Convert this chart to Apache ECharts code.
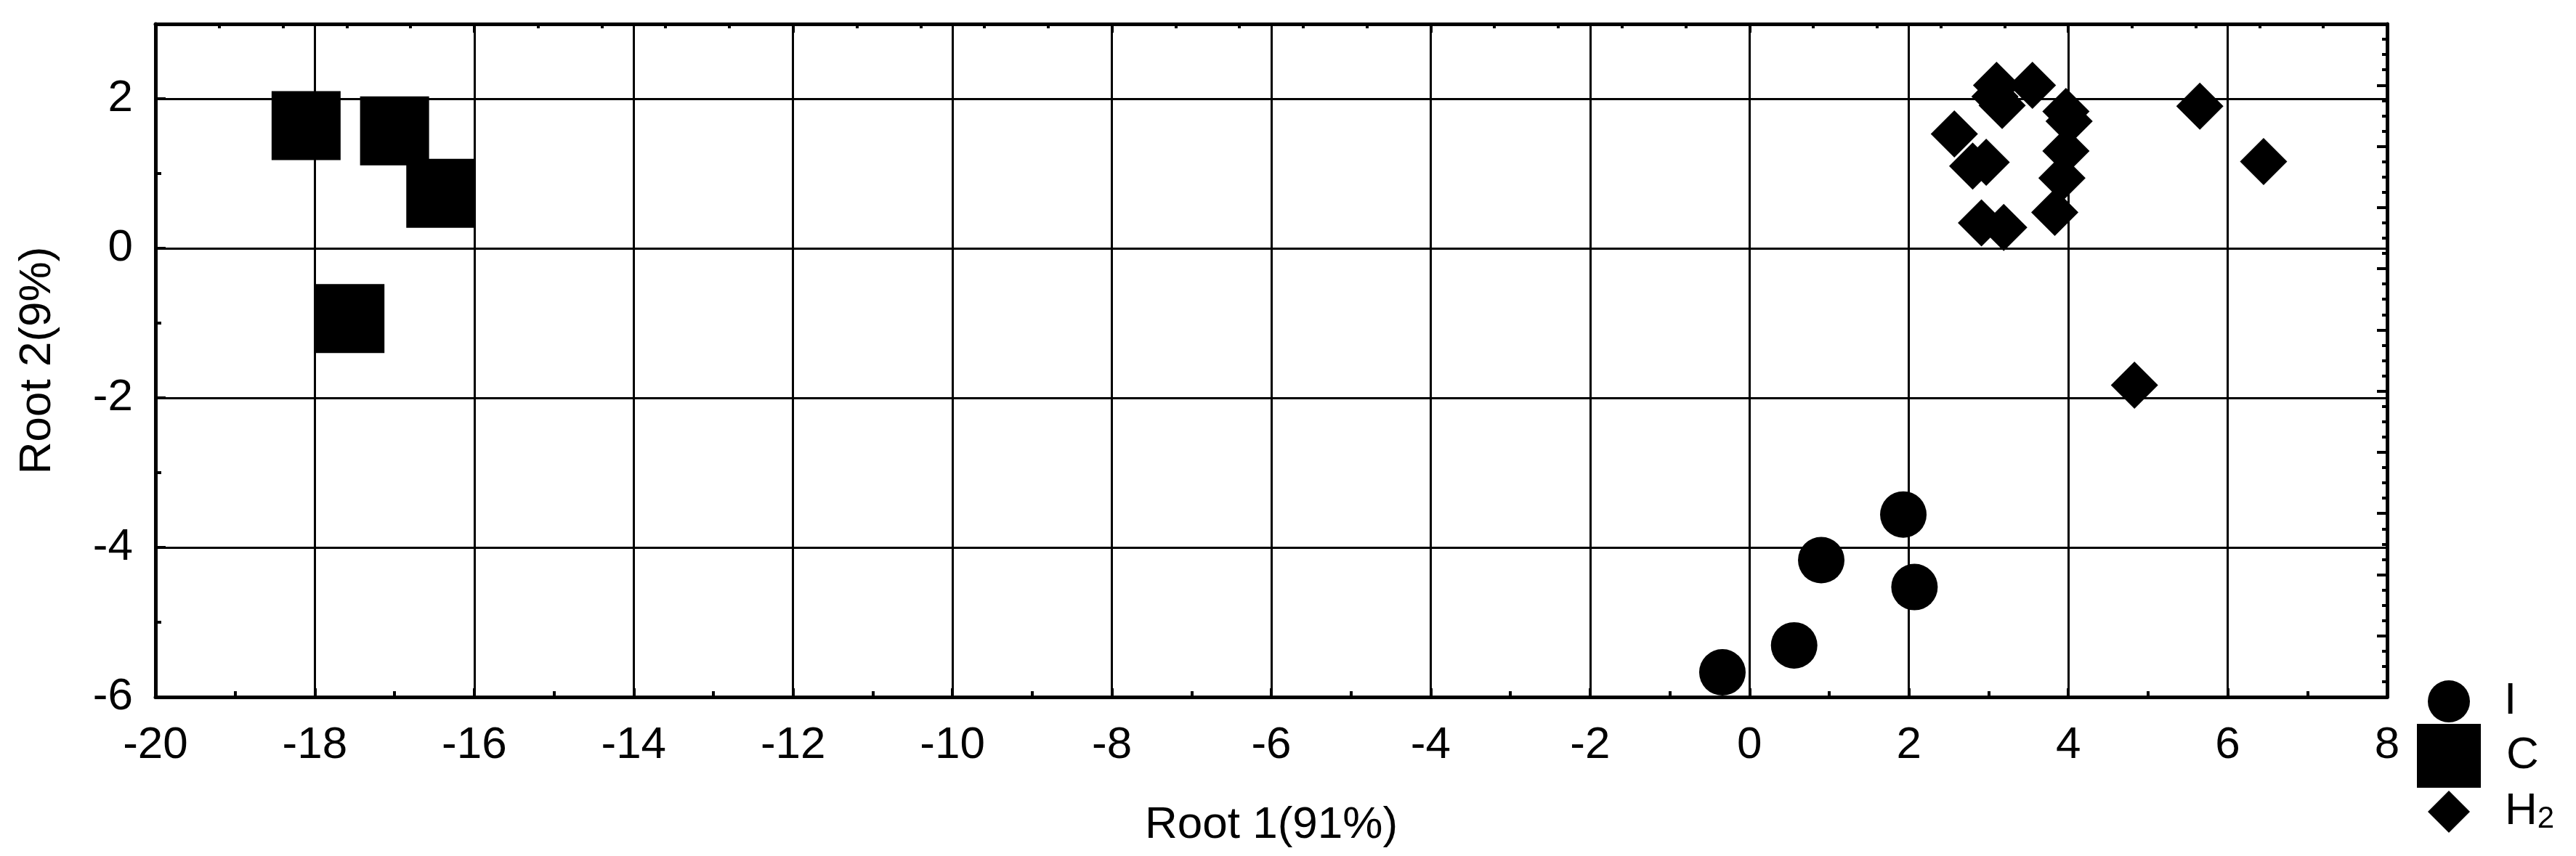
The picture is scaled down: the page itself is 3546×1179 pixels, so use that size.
<!DOCTYPE html>
<html><head><meta charset="utf-8">
<script src="https://cdn.jsdelivr.net/npm/echarts@6/dist/echarts.min.js"></script>
<style>html,body{margin:0;padding:0;background:#fff}#c{width:3546px;height:1179px}</style>
</head><body><div id="c"></div>
<script>
const FONT = '"Liberation Sans", Arial, Helvetica, sans-serif';

// Axis ticks
const xTicks = [-20, -18, -16, -14, -12, -10, -8, -6, -4, -2, 0, 2, 4, 6, 8];
const yTicks = [-6, -4, -2, 0, 2];
const yMax = 3;
const xTitle = 'Root 1(91%)';
const yTitle = 'Root 2(9%)';

// Group names
const seriesNames = ['I', 'C', 'H2'];

// Group I (circles)
const iX = [1.93, 0.90, 2.07, 0.56, -0.34];
const iY = [-3.56, -4.17, -4.53, -5.31, -5.67];

// Group C (squares)
const cX = [-18.11, -17.00, -16.42, -17.56];
const cY = [1.64, 1.57, 0.735, -0.94];

// Group H2 (diamonds)
const hX = [3.10, 3.55, 3.08, 3.17, 2.57, 2.80, 2.97, 3.97, 4.01, 3.97, 3.92, 3.83, 2.91, 3.19, 5.65, 6.45, 4.83];
const hY = [2.18, 2.18, 2.03, 1.91, 1.53, 1.10, 1.15, 1.83, 1.70, 1.30, 0.94, 0.48, 0.34, 0.28, 1.90, 1.16, -1.83];

const zip = (a, b) => a.map((v, i) => [v, b[i]]);
const BLACK = '#000';
const lbl = { color: BLACK, fontSize: 62, fontFamily: FONT };

const chart = echarts.init(document.getElementById('c'), null, { renderer: 'canvas' });

const xMin = xTicks[0], xMax = xTicks[xTicks.length - 1];
const yMin = yTicks[0];

function legendFor(name, icon, size, left, top, padLeft) {
  return {
    data: [name], icon: icon, itemWidth: size, itemHeight: size,
    orient: 'vertical', padding: 0, itemGap: 0,
    symbolKeepAspect: true, left: left, top: top, selectedMode: false,
    textStyle: {
      color: BLACK, fontSize: 62, fontFamily: FONT, padding: [0, 0, 0, padLeft],
      rich: {
        h: { fontSize: 62, fontFamily: FONT, color: BLACK, lineHeight: 62 },
        s: { fontSize: 42, fontFamily: FONT, color: BLACK, lineHeight: 62, verticalAlign: 'bottom', padding: [38, 0, 0, 0] }
      }
    },
    formatter: n => n === 'H2' ? '{h|H}{s|2}' : n
  };
}

chart.setOption({
  animation: false,
  backgroundColor: '#fff',
  grid: { left: 214, top: 33, width: 3072, height: 927, containLabel: false, outerBoundsMode: 'none' },
  legend: [
    legendFor(seriesNames[0], 'circle', 58, 3342, 935, 42),
    legendFor(seriesNames[1], 'path://M0,0L1,0L1,1L0,1Z', 88, 3327, 997, 30),
    legendFor(seriesNames[2], 'path://M1,0L2,1L1,2L0,1Z', 58, 3342, 1069, 43)
  ],
  xAxis: [
    {
      type: 'value', position: 'bottom', min: xMin, max: xMax, interval: xTicks[1] - xTicks[0],
      axisLine: { show: true, onZero: false, lineStyle: { color: BLACK, width: 5 } },
      axisTick: { show: true, inside: true, length: 12, lineStyle: { color: BLACK, width: 4 } },
      minorTick: { show: true, splitNumber: 2, length: 8, lineStyle: { color: BLACK, width: 4 } },
      axisLabel: Object.assign({ margin: 36 }, lbl),
      splitLine: { show: true, lineStyle: { color: BLACK, width: 3 } },
      name: xTitle, nameLocation: 'middle', nameGap: 146, nameTextStyle: lbl
    },
    {
      type: 'value', position: 'top', min: xMin, max: xMax, interval: 4,
      axisLine: { show: true, onZero: false, lineStyle: { color: BLACK, width: 5 } },
      axisTick: { show: true, inside: true, length: 12, lineStyle: { color: BLACK, width: 4 } },
      minorTick: { show: true, splitNumber: 5, length: 6, lineStyle: { color: BLACK, width: 4 } },
      axisLabel: { show: false }, splitLine: { show: false }
    }
  ],
  yAxis: [
    {
      type: 'value', position: 'left', min: yMin, max: yMax, interval: yTicks[1] - yTicks[0],
      axisLine: { show: true, onZero: false, lineStyle: { color: BLACK, width: 5 } },
      axisTick: { show: true, inside: true, length: 14, lineStyle: { color: BLACK, width: 4 } },
      axisLabel: Object.assign({ margin: 31, showMaxLabel: false }, lbl),
      splitLine: { show: true, lineStyle: { color: BLACK, width: 3 } },
      name: yTitle, nameLocation: 'middle', nameGap: 131, nameRotate: 90, nameTextStyle: lbl
    },
    {
      type: 'value', position: 'right', min: 0, max: 11, interval: 1,
      axisLine: { show: true, onZero: false, lineStyle: { color: BLACK, width: 5 } },
      axisTick: { show: true, inside: true, length: 14, lineStyle: { color: BLACK, width: 4 } },
      minorTick: { show: true, splitNumber: 4, length: 7, lineStyle: { color: BLACK, width: 4 } },
      axisLabel: { show: false }, splitLine: { show: false }
    },
    {
      type: 'value', position: 'left', min: yMin, max: yMax, interval: 1,
      axisLine: { show: false, onZero: false },
      axisTick: { show: true, inside: true, length: 8, lineStyle: { color: BLACK, width: 4 } },
      axisLabel: { show: false }, splitLine: { show: false }
    }
  ],
  series: [
    { type: 'scatter', name: seriesNames[0], symbol: 'circle', symbolSize: 64, itemStyle: { color: BLACK, opacity: 1 }, data: zip(iX, iY), silent: true },
    { type: 'scatter', name: seriesNames[1], symbol: 'rect', symbolSize: 95, itemStyle: { color: BLACK, opacity: 1 }, data: zip(cX, cY), silent: true },
    { type: 'scatter', name: seriesNames[2], symbol: 'diamond', symbolSize: 65, itemStyle: { color: BLACK, opacity: 1 }, data: zip(hX, hY), silent: true }
  ]
});
</script></body></html>
